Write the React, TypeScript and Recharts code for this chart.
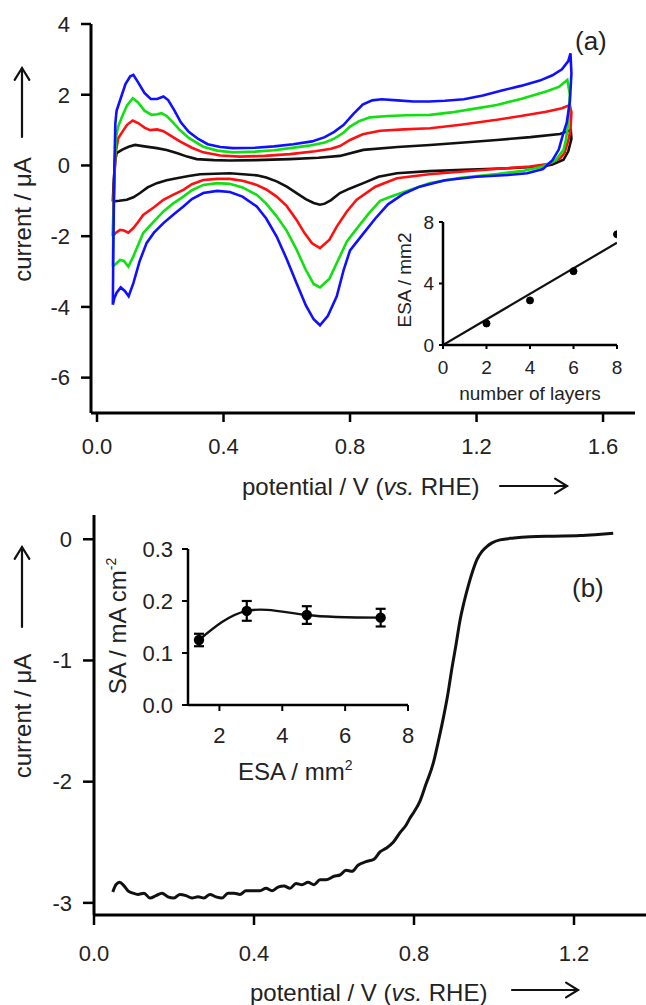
import React from 'react';
import { LineChart, Line, XAxis, YAxis, ErrorBar } from 'recharts';

const FONT = '"Liberation Sans", Arial, Helvetica, sans-serif';

// ---------- Panel (a): cyclic voltammograms, [potential V, current µA] in scan order ----------
const cvBlack: [number, number][] = [
  [0.05, -1.02], [0.053, -0.4], [0.058, 0.15], [0.062, 0.35], [0.08, 0.45], [0.1, 0.53], [0.12, 0.58], [0.15, 0.54],
  [0.189, 0.49], [0.22, 0.44], [0.252, 0.35], [0.285, 0.25], [0.315, 0.18], [0.37, 0.15], [0.42, 0.14], [0.5, 0.15],
  [0.61, 0.18], [0.7, 0.22], [0.768, 0.27], [0.842, 0.44], [0.95, 0.52], [1.053, 0.58], [1.16, 0.65], [1.264, 0.72],
  [1.37, 0.8], [1.464, 0.89], [1.498, 1.0],
  [1.5, 0.75], [1.49, 0.4], [1.475, 0.16], [1.44, 0.03], [1.41, -0.03], [1.3, -0.08], [1.158, -0.12], [1.05, -0.16],
  [0.948, -0.22], [0.89, -0.32], [0.842, -0.5], [0.8, -0.65], [0.768, -0.78], [0.74, -0.98], [0.72, -1.08], [0.705, -1.11],
  [0.685, -1.06], [0.66, -0.95], [0.631, -0.78], [0.6, -0.6], [0.568, -0.45], [0.535, -0.34], [0.505, -0.28], [0.42, -0.22],
  [0.326, -0.25], [0.29, -0.3], [0.252, -0.36], [0.22, -0.42], [0.189, -0.5], [0.16, -0.62], [0.136, -0.78], [0.115, -0.9],
  [0.094, -0.97], [0.07, -1.0], [0.05, -1.02],
];
const cvRed: [number, number][] = [
  [0.05, -2.0], [0.053, -0.8], [0.058, 0.3], [0.067, 0.77], [0.08, 0.95], [0.095, 1.15], [0.113, 1.27], [0.13, 1.2],
  [0.15, 1.07], [0.168, 1.0], [0.19, 1.02], [0.21, 0.97], [0.235, 0.83], [0.262, 0.68], [0.3, 0.5], [0.336, 0.37],
  [0.39, 0.28], [0.452, 0.25], [0.53, 0.27], [0.61, 0.32], [0.69, 0.4], [0.74, 0.47], [0.768, 0.55], [0.8, 0.72],
  [0.84, 0.88], [0.895, 0.98], [0.97, 1.02], [1.053, 1.05], [1.15, 1.15], [1.264, 1.29], [1.34, 1.4], [1.42, 1.52],
  [1.47, 1.62], [1.495, 1.71],
  [1.5, 1.5], [1.497, 1.0], [1.49, 0.7], [1.478, 0.35], [1.464, 0.2], [1.43, 0.05], [1.369, -0.03], [1.26, -0.1],
  [1.158, -0.17], [1.05, -0.25], [0.948, -0.36], [0.88, -0.6], [0.821, -0.97], [0.79, -1.3], [0.758, -1.73], [0.735, -2.1],
  [0.705, -2.34], [0.68, -2.2], [0.655, -1.9], [0.631, -1.54], [0.6, -1.15], [0.568, -0.88], [0.535, -0.68], [0.505, -0.55],
  [0.46, -0.43], [0.42, -0.38], [0.38, -0.38], [0.336, -0.41], [0.3, -0.53], [0.273, -0.69], [0.24, -0.83], [0.21, -0.97],
  [0.18, -1.18], [0.146, -1.4], [0.13, -1.6], [0.115, -1.77], [0.099, -1.9], [0.085, -1.84], [0.073, -1.82], [0.06, -1.9],
  [0.05, -2.0],
];
const cvGreen: [number, number][] = [
  [0.05, -2.86], [0.052, -1.5], [0.056, 0.0], [0.06, 0.8], [0.067, 1.1], [0.08, 1.4], [0.095, 1.7], [0.113, 1.9],
  [0.13, 1.78], [0.15, 1.55], [0.173, 1.43], [0.19, 1.45], [0.204, 1.48], [0.22, 1.4], [0.24, 1.22], [0.262, 1.0],
  [0.29, 0.78], [0.336, 0.53], [0.38, 0.42], [0.431, 0.37], [0.5, 0.39], [0.56, 0.43], [0.61, 0.49], [0.67, 0.56],
  [0.72, 0.65], [0.75, 0.76], [0.78, 0.93], [0.8, 1.1], [0.83, 1.26], [0.863, 1.36], [0.92, 1.4], [0.98, 1.42],
  [1.053, 1.43], [1.12, 1.5], [1.19, 1.6], [1.264, 1.71], [1.34, 1.88], [1.42, 2.09], [1.46, 2.22], [1.487, 2.42],
  [1.495, 2.0], [1.49, 1.2], [1.482, 0.7], [1.475, 0.44], [1.45, 0.15], [1.41, -0.03], [1.35, -0.15], [1.264, -0.24],
  [1.15, -0.35], [1.053, -0.5], [0.98, -0.72], [0.93, -0.88], [0.895, -1.0], [0.86, -1.35], [0.82, -1.8], [0.79, -2.15],
  [0.758, -2.76], [0.735, -3.2], [0.705, -3.45], [0.685, -3.35], [0.66, -2.95], [0.631, -2.38], [0.6, -1.85], [0.568, -1.44],
  [0.535, -1.08], [0.505, -0.83], [0.46, -0.62], [0.42, -0.52], [0.38, -0.5], [0.336, -0.55], [0.3, -0.7], [0.273, -0.88],
  [0.24, -1.08], [0.21, -1.3], [0.18, -1.58], [0.146, -1.91], [0.13, -2.25], [0.115, -2.57], [0.099, -2.86], [0.085, -2.7],
  [0.073, -2.67], [0.06, -2.78], [0.05, -2.86],
];
const cvBlue: [number, number][] = [
  [0.05, -3.94], [0.052, -2.0], [0.055, 0.0], [0.058, 1.2], [0.062, 1.55], [0.075, 1.9], [0.09, 2.3], [0.105, 2.52],
  [0.115, 2.56], [0.13, 2.35], [0.15, 2.05], [0.17, 1.88], [0.19, 1.88], [0.21, 1.95], [0.225, 1.85], [0.245, 1.55],
  [0.265, 1.22], [0.29, 0.95], [0.32, 0.75], [0.35, 0.6], [0.39, 0.52], [0.43, 0.49], [0.5, 0.5], [0.56, 0.54],
  [0.62, 0.6], [0.68, 0.68], [0.72, 0.8], [0.75, 0.95], [0.78, 1.15], [0.81, 1.45], [0.84, 1.72], [0.87, 1.84],
  [0.9, 1.87], [0.95, 1.84], [1.0, 1.81], [1.05, 1.81], [1.1, 1.83], [1.16, 1.87], [1.22, 1.98], [1.28, 2.12],
  [1.34, 2.25], [1.4, 2.4], [1.44, 2.55], [1.47, 2.72], [1.49, 2.95], [1.497, 3.17],
  [1.5, 2.6], [1.495, 1.8], [1.485, 1.2], [1.474, 0.9], [1.46, 0.45], [1.44, 0.15], [1.41, -0.1], [1.36, -0.22],
  [1.3, -0.27], [1.2, -0.32], [1.1, -0.42], [1.02, -0.6], [0.97, -0.8], [0.92, -1.1], [0.88, -1.5], [0.84, -1.95],
  [0.8, -2.4], [0.78, -2.95], [0.758, -3.7], [0.73, -4.25], [0.705, -4.52], [0.685, -4.35], [0.66, -3.95], [0.631, -3.33],
  [0.6, -2.65], [0.568, -2.01], [0.535, -1.5], [0.505, -1.16], [0.46, -0.88], [0.42, -0.75], [0.38, -0.72], [0.336, -0.78],
  [0.3, -0.95], [0.273, -1.16], [0.24, -1.4], [0.21, -1.63], [0.18, -1.9], [0.157, -2.19], [0.135, -2.7], [0.115, -3.33],
  [0.1, -3.7], [0.088, -3.55], [0.075, -3.45], [0.062, -3.6], [0.055, -3.75], [0.05, -3.94],
];
const cvXTicks = [0, 0.4, 0.8, 1.2, 1.6];
const cvYTicks = [-6, -4, -2, 0, 2, 4];

// inset (a): ESA vs number of layers
const layers = [2, 4, 6, 8];
const esaByLayer = [1.4, 2.9, 4.8, 7.2];
const fitLayers = [0, 8];
const fitEsa = [0, 6.65];
const insetAXTicks = [0, 2, 4, 6, 8];
const insetAYTicks = [0, 4, 8];

// ---------- Panel (b): linear sweep voltammogram ----------
const lsv: [number, number][] = [
  [0.047, -2.91], [0.055, -2.85], [0.064, -2.83], [0.075, -2.86], [0.085, -2.9], [0.098, -2.92], [0.11, -2.93], [0.125, -2.92],
  [0.14, -2.96], [0.155, -2.94], [0.17, -2.92], [0.185, -2.95], [0.2, -2.96], [0.215, -2.93], [0.23, -2.94], [0.245, -2.96],
  [0.26, -2.95], [0.275, -2.96], [0.29, -2.93], [0.305, -2.95], [0.32, -2.96], [0.335, -2.92], [0.35, -2.92], [0.365, -2.93],
  [0.38, -2.9], [0.4, -2.9], [0.415, -2.9], [0.43, -2.88], [0.445, -2.9], [0.46, -2.87], [0.475, -2.86], [0.49, -2.88],
  [0.505, -2.84], [0.52, -2.85], [0.535, -2.83], [0.55, -2.85], [0.565, -2.81], [0.58, -2.81], [0.6, -2.78], [0.615, -2.77],
  [0.63, -2.73], [0.645, -2.74], [0.66, -2.69], [0.68, -2.66], [0.7, -2.64], [0.715, -2.58], [0.73, -2.55], [0.748, -2.5],
  [0.765, -2.42], [0.78, -2.36], [0.79, -2.3], [0.8, -2.25], [0.815, -2.16], [0.83, -2.02], [0.848, -1.85], [0.86, -1.68],
  [0.873, -1.48], [0.885, -1.27], [0.894, -1.08], [0.905, -0.87], [0.915, -0.67], [0.925, -0.52], [0.936, -0.38], [0.947, -0.26],
  [0.957, -0.17], [0.97, -0.1], [0.982, -0.06], [0.995, -0.03], [1.015, -0.005], [1.05, 0.01], [1.09, 0.02], [1.15, 0.025],
  [1.215, 0.03], [1.26, 0.04], [1.298, 0.05],
];
const lsvXTicks = [0, 0.4, 0.8, 1.2];
const lsvYTicks = [-3, -2, -1, 0];

// inset (b): SA vs ESA
const esaB = [1.35, 2.87, 4.78, 7.13];
const saB = [0.125, 0.181, 0.173, 0.168];
const saErr = [0.012, 0.019, 0.017, 0.017];
const insetBXTicks = [2, 4, 6, 8];
const insetBYTicks = [0, 0.1, 0.2, 0.3];

const toXY = (arr: [number, number][]) => arr.map(([x, y]) => ({ x, y }));
const zip = (xs: number[], ys: number[]) => xs.map((x, i) => ({ x, y: ys[i] }));

const tickStyle = (size: number) => ({ fill: '#222', fontSize: size, fontFamily: FONT });
const axisLine = (w: number) => ({ stroke: '#000', strokeWidth: w });

const Arrow = ({ x1, y1, x2, y2 }: { x1: number; y1: number; x2: number; y2: number }) => {
  const ang = Math.atan2(y2 - y1, x2 - x1);
  const L = 14;
  const a1 = ang + Math.PI - 0.55;
  const a2 = ang + Math.PI + 0.55;
  return (
    <g stroke="#111" strokeWidth={2.2} fill="none" strokeLinecap="round">
      <line x1={x1} y1={y1} x2={x2} y2={y2} />
      <polyline
        points={`${x2 + L * Math.cos(a1)},${y2 + L * Math.sin(a1)} ${x2},${y2} ${x2 + L * Math.cos(a2)},${y2 + L * Math.sin(a2)}`}
      />
    </g>
  );
};

export default function App() {
  const abs = (left: number, top: number): React.CSSProperties => ({ position: 'absolute', left, top });
  return (
    <div style={{ position: 'absolute', left: 0, top: 0, width: 646, height: 1005, background: '#fff', fontFamily: FONT }}>
      {/* Panel (a) main */}
      <div style={abs(0, 0)}>
        <LineChart width={646} height={470} margin={{ top: 24, right: 11, left: 0, bottom: 17 }}>
          <XAxis type="number" dataKey="x" domain={[-0.019, 1.701]} allowDataOverflow ticks={cvXTicks}
            tickFormatter={(v: number) => v.toFixed(1)} height={40} axisLine={axisLine(3)} tickLine={axisLine(2.5)}
            tickSize={9} tickMargin={16} tick={tickStyle(22)} />
          <YAxis type="number" dataKey="y" domain={[-7, 4]} allowDataOverflow ticks={cvYTicks} width={91}
            axisLine={axisLine(3)} tickLine={axisLine(2.5)} tickSize={10} tickMargin={11} tick={tickStyle(22)} />
          <Line data={toXY(cvBlack)} dataKey="y" type="linear" stroke="#111" strokeWidth={2.6} dot={false} isAnimationActive={false} />
          <Line data={toXY(cvRed)} dataKey="y" type="linear" stroke="#ff1010" strokeWidth={2.6} dot={false} isAnimationActive={false} />
          <Line data={toXY(cvGreen)} dataKey="y" type="linear" stroke="#10e010" strokeWidth={2.6} dot={false} isAnimationActive={false} />
          <Line data={toXY(cvBlue)} dataKey="y" type="linear" stroke="#1010ff" strokeWidth={2.6} dot={false} isAnimationActive={false} />
        </LineChart>
      </div>

      {/* Inset (a) */}
      <div style={abs(380, 200)}>
        <LineChart width={260} height={210} margin={{ top: 22, right: 23, left: 0, bottom: 35 }}>
          <XAxis type="number" dataKey="x" domain={[0, 8]} allowDataOverflow ticks={insetAXTicks} height={30}
            axisLine={axisLine(2.5)} tickLine={axisLine(2)} tickSize={4} tickMargin={12} tick={tickStyle(19)} />
          <YAxis type="number" dataKey="y" domain={[0, 8]} allowDataOverflow ticks={insetAYTicks} width={63}
            axisLine={axisLine(2.5)} tickLine={axisLine(2)} tickSize={4} tickMargin={5} tick={tickStyle(19)} />
          <Line data={zip(fitLayers, fitEsa)} dataKey="y" type="linear" stroke="#111" strokeWidth={2.2} dot={false} isAnimationActive={false} />
          <Line data={zip(layers, esaByLayer)} dataKey="y" stroke="none" dot={{ r: 3.5, fill: '#000', stroke: '#000', strokeWidth: 1 }} isAnimationActive={false} />
        </LineChart>
      </div>

      {/* Panel (b) main */}
      <div style={abs(0, 490)}>
        <LineChart width={646} height={515} margin={{ top: 25, right: 0, left: 0, bottom: 45 }}>
          <XAxis type="number" dataKey="x" domain={[0, 1.38]} allowDataOverflow ticks={lsvXTicks}
            tickFormatter={(v: number) => v.toFixed(1)} height={45} axisLine={axisLine(3)} tickLine={axisLine(2.5)}
            tickSize={10} tickMargin={20} tick={tickStyle(22)} />
          <YAxis type="number" dataKey="y" domain={[-3.1, 0.2]} allowDataOverflow ticks={lsvYTicks} width={94}
            axisLine={axisLine(3)} tickLine={axisLine(2.5)} tickSize={11} tickMargin={11} tick={tickStyle(22)} />
          <Line data={toXY(lsv)} dataKey="y" type="monotone" stroke="#111" strokeWidth={3} dot={false} isAnimationActive={false} />
        </LineChart>
      </div>

      {/* Inset (b) */}
      <div style={abs(100, 520)}>
        <LineChart width={330} height={240} margin={{ top: 29, right: 22, left: 0, bottom: 25 }}>
          <XAxis type="number" dataKey="x" domain={[1, 8]} allowDataOverflow ticks={insetBXTicks} height={30}
            axisLine={axisLine(2.5)} tickLine={axisLine(2)} tickSize={6} tickMargin={16} tick={tickStyle(22)} />
          <YAxis type="number" dataKey="y" domain={[0, 0.3]} allowDataOverflow ticks={insetBYTicks} width={88}
            tickFormatter={(v: number) => v.toFixed(1)} axisLine={axisLine(2.5)} tickLine={axisLine(2)}
            tickSize={6} tickMargin={9} tick={tickStyle(22)} />
          <Line data={esaB.map((x, i) => ({ x, y: saB[i], e: saErr[i] }))} dataKey="y" type="natural" stroke="#111"
            strokeWidth={2.4} dot={{ r: 4, fill: '#000', stroke: '#000' }} isAnimationActive={false}>
            <ErrorBar dataKey="e" direction="y" width={5} strokeWidth={2.2} stroke="#000" />
          </Line>
        </LineChart>
      </div>

      {/* Titles and labels */}
      <svg width={646} height={1005} style={{ position: 'absolute', left: 0, top: 0, pointerEvents: 'none' }}>
        <g fontFamily={FONT} fill="#222">
          <text x={575} y={50} fontSize={26}>(a)</text>
          <text transform="translate(31,219.5) rotate(-90)" textAnchor="middle" fontSize={24}>current / μA</text>
          <text x={242} y={495} fontSize={24}>potential / V (<tspan fontStyle="italic">vs.</tspan> RHE)</text>
          <text x={530} y={400} fontSize={19} textAnchor="middle">number of layers</text>
          <text transform="translate(411,280) rotate(-90)" textAnchor="middle" fontSize={19}>ESA / mm2</text>

          <text x={572} y={597} fontSize={26}>(b)</text>
          <text transform="translate(31,716) rotate(-90)" textAnchor="middle" fontSize={24}>current / μA</text>
          <text x={250} y={1001} fontSize={24}>potential / V (<tspan fontStyle="italic">vs.</tspan> RHE)</text>
          <text x={238} y={780} fontSize={24}>ESA / mm<tspan fontSize={14} dy={-10}>2</tspan></text>
          <text transform="translate(126,626) rotate(-90)" textAnchor="middle" fontSize={24}>
            SA / mA cm<tspan fontSize={14} dy={-10}>-2</tspan>
          </text>
        </g>
        <Arrow x1={22} y1={137} x2={22} y2={68} />
        <Arrow x1={500} y1={486} x2={567} y2={486} />
        <Arrow x1={22} y1={627} x2={22} y2={547} />
        <Arrow x1={512} y1={990} x2={578} y2={990} />
      </svg>
    </div>
  );
}
